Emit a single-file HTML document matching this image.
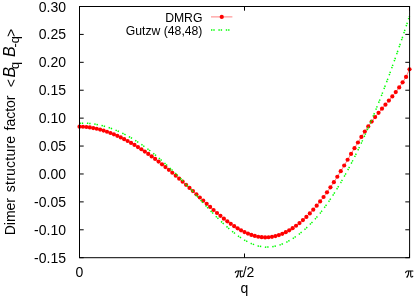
<!DOCTYPE html><html><head><meta charset="utf-8"><style>html,body{margin:0;padding:0;background:#fff}svg{display:block;will-change:transform;opacity:0.999}text{font-family:"Liberation Sans",sans-serif;fill:#000}</style></head><body>
<svg width="415" height="297" viewBox="0 0 415 297">
<rect width="415" height="297" fill="#fff"/>
<path d="M79.5 6.50h4.2M409.5 6.50h-4.2M79.5 34.41h4.2M409.5 34.41h-4.2M79.5 62.32h4.2M409.5 62.32h-4.2M79.5 90.23h4.2M409.5 90.23h-4.2M79.5 118.14h4.2M409.5 118.14h-4.2M79.5 146.06h4.2M409.5 146.06h-4.2M79.5 173.97h4.2M409.5 173.97h-4.2M79.5 201.88h4.2M409.5 201.88h-4.2M79.5 229.79h4.2M409.5 229.79h-4.2M79.5 257.70h4.2M409.5 257.70h-4.2M79.5 257.7v-4.2M79.5 6.5v4.2M244.5 257.7v-4.2M244.5 6.5v4.2M409.5 257.7v-4.2M409.5 6.5v4.2" stroke="#000" stroke-width="1" fill="none"/>
<text x="66" y="11.50" font-size="14" text-anchor="end">0.30</text>
<text x="66" y="39.41" font-size="14" text-anchor="end">0.25</text>
<text x="66" y="67.32" font-size="14" text-anchor="end">0.20</text>
<text x="66" y="95.23" font-size="14" text-anchor="end">0.15</text>
<text x="66" y="123.14" font-size="14" text-anchor="end">0.10</text>
<text x="66" y="151.06" font-size="14" text-anchor="end">0.05</text>
<text x="66" y="178.97" font-size="14" text-anchor="end">0.00</text>
<text x="66" y="206.88" font-size="14" text-anchor="end">-0.05</text>
<text x="66" y="234.79" font-size="14" text-anchor="end">-0.10</text>
<text x="66" y="262.70" font-size="14" text-anchor="end">-0.15</text>
<text x="79.5" y="277" font-size="14" text-anchor="middle">0</text>
<g transform="translate(-170.35 0)" stroke="#000" fill="none" stroke-linecap="round" stroke-linejoin="round"><path d="M405.65 272.6C405.9 271.5 406.5 271.05 407.4 271.05L412.9 271.05" stroke-width="1.1"/><path d="M408.8 271.2C408.7 273.5 408.2 275.6 407.25 277.0" stroke-width="1.1"/><path d="M407.5 276.3C407.3 276.8 407.0 277.1 406.7 277.05" stroke-width="1.1"/><path d="M410.7 271.2L410.7 275.6C410.7 276.7 411.3 277.1 412.0 277.0C412.5 276.9 412.75 276.6 412.85 276.2" stroke-width="1.05"/></g><text x="254.4" y="277" font-size="14" text-anchor="end">/2</text>
<g stroke="#000" fill="none" stroke-linecap="round" stroke-linejoin="round"><path d="M405.65 272.6C405.9 271.5 406.5 271.05 407.4 271.05L412.9 271.05" stroke-width="1.1"/><path d="M408.8 271.2C408.7 273.5 408.2 275.6 407.25 277.0" stroke-width="1.1"/><path d="M407.5 276.3C407.3 276.8 407.0 277.1 406.7 277.05" stroke-width="1.1"/><path d="M410.7 271.2L410.7 275.6C410.7 276.7 411.3 277.1 412.0 277.0C412.5 276.9 412.75 276.6 412.85 276.2" stroke-width="1.05"/></g>
<text x="244.5" y="292.7" font-size="14" text-anchor="middle">q</text>
<text transform="rotate(-90)" x="-235.31" y="15.2" font-size="14" letter-spacing="0">Dimer</text>
<text transform="rotate(-90)" x="-192.16" y="15.2" font-size="14" letter-spacing="0.22">structure</text>
<text transform="rotate(-90)" x="-130.51" y="15.2" font-size="14" letter-spacing="0">factor</text>
<text transform="rotate(-90)" x="-87.23" y="16.0" font-size="14">&lt;</text>
<text transform="rotate(-90)" x="-77.59" y="15.2" font-size="16" font-style="italic">B</text>
<text transform="rotate(-90)" x="-68.91" y="19.0" font-size="12.8">q</text>
<text transform="rotate(-90)" x="-57.07" y="15.2" font-size="16" font-style="italic">B</text>
<text transform="rotate(-90)" x="-47.6" y="19.0" font-size="12.8">-q</text>
<text transform="rotate(-90)" x="-36.91" y="16.0" font-size="14">&gt;</text>
<text x="202.4" y="22" font-size="12.2" text-anchor="end">DMRG</text>
<text x="202.4" y="34.7" font-size="12.2" text-anchor="end">Gutzw (48,48)</text>
<path d="M211 16.9H232.4" stroke="#f00" stroke-width="0.5" fill="none"/><circle cx="221.75" cy="16.9" r="2.1" fill="#f00"/>
<path d="M211 30H232.4" stroke="#0f0" stroke-width="1.5" stroke-dasharray="1.4 0.9 1.4 3.7" fill="none"/>
<path d="M79.50 126.63L82.94 126.74L86.38 127.00L89.81 127.44L93.25 128.03L96.69 128.76L100.12 129.62L103.56 130.62L107.00 131.74L110.44 132.99L113.88 134.36L117.31 135.85L120.75 137.45L124.19 139.16L127.62 140.98L131.06 142.91L134.50 144.93L137.94 147.05L141.38 149.26L144.81 151.56L148.25 153.95L151.69 156.42L155.12 158.96L158.56 161.58L162.00 164.28L165.44 167.04L168.88 169.86L172.31 172.74L175.75 175.68L179.19 178.68L182.62 181.72L186.06 184.81L189.50 187.94L192.94 191.11L196.38 194.30L199.81 197.50L203.25 200.68L206.69 203.84L210.12 206.96L213.56 210.01L217.00 212.99L220.44 215.87L223.88 218.65L227.31 221.30L230.75 223.80L234.19 226.15L237.62 228.32L241.06 230.30L244.50 232.07L247.94 233.61L251.38 234.92L254.81 235.96L258.25 236.73L261.69 237.21L265.12 237.39L268.56 237.26L272.00 236.83L275.44 236.10L278.88 235.09L282.31 233.78L285.75 232.19L289.19 230.32L292.62 228.17L296.06 225.75L299.50 223.06L302.94 220.10L306.38 216.88L309.81 213.40L313.25 209.67L316.69 205.69L320.12 201.46L323.56 196.99L327.00 192.28L330.44 187.34L333.88 182.17L337.31 176.77L340.75 171.20L344.19 165.50L347.62 159.74L351.06 153.94L354.50 148.18L357.94 142.50L361.38 136.95L364.81 131.59L368.25 126.46L371.69 121.62L375.12 117.09L378.56 112.81L382.00 108.69L385.44 104.64L388.88 100.57L392.31 96.40L395.75 92.04L399.19 87.39L402.62 82.37L406.06 76.89L409.50 69.24" stroke="#f00" stroke-width="0.5" fill="none"/>
<g fill="#f00"><circle cx="79.50" cy="126.63" r="2.1"/><circle cx="82.94" cy="126.74" r="2.1"/><circle cx="86.38" cy="127.00" r="2.1"/><circle cx="89.81" cy="127.44" r="2.1"/><circle cx="93.25" cy="128.03" r="2.1"/><circle cx="96.69" cy="128.76" r="2.1"/><circle cx="100.12" cy="129.62" r="2.1"/><circle cx="103.56" cy="130.62" r="2.1"/><circle cx="107.00" cy="131.74" r="2.1"/><circle cx="110.44" cy="132.99" r="2.1"/><circle cx="113.88" cy="134.36" r="2.1"/><circle cx="117.31" cy="135.85" r="2.1"/><circle cx="120.75" cy="137.45" r="2.1"/><circle cx="124.19" cy="139.16" r="2.1"/><circle cx="127.62" cy="140.98" r="2.1"/><circle cx="131.06" cy="142.91" r="2.1"/><circle cx="134.50" cy="144.93" r="2.1"/><circle cx="137.94" cy="147.05" r="2.1"/><circle cx="141.38" cy="149.26" r="2.1"/><circle cx="144.81" cy="151.56" r="2.1"/><circle cx="148.25" cy="153.95" r="2.1"/><circle cx="151.69" cy="156.42" r="2.1"/><circle cx="155.12" cy="158.96" r="2.1"/><circle cx="158.56" cy="161.58" r="2.1"/><circle cx="162.00" cy="164.28" r="2.1"/><circle cx="165.44" cy="167.04" r="2.1"/><circle cx="168.88" cy="169.86" r="2.1"/><circle cx="172.31" cy="172.74" r="2.1"/><circle cx="175.75" cy="175.68" r="2.1"/><circle cx="179.19" cy="178.68" r="2.1"/><circle cx="182.62" cy="181.72" r="2.1"/><circle cx="186.06" cy="184.81" r="2.1"/><circle cx="189.50" cy="187.94" r="2.1"/><circle cx="192.94" cy="191.11" r="2.1"/><circle cx="196.38" cy="194.30" r="2.1"/><circle cx="199.81" cy="197.50" r="2.1"/><circle cx="203.25" cy="200.68" r="2.1"/><circle cx="206.69" cy="203.84" r="2.1"/><circle cx="210.12" cy="206.96" r="2.1"/><circle cx="213.56" cy="210.01" r="2.1"/><circle cx="217.00" cy="212.99" r="2.1"/><circle cx="220.44" cy="215.87" r="2.1"/><circle cx="223.88" cy="218.65" r="2.1"/><circle cx="227.31" cy="221.30" r="2.1"/><circle cx="230.75" cy="223.80" r="2.1"/><circle cx="234.19" cy="226.15" r="2.1"/><circle cx="237.62" cy="228.32" r="2.1"/><circle cx="241.06" cy="230.30" r="2.1"/><circle cx="244.50" cy="232.07" r="2.1"/><circle cx="247.94" cy="233.61" r="2.1"/><circle cx="251.38" cy="234.92" r="2.1"/><circle cx="254.81" cy="235.96" r="2.1"/><circle cx="258.25" cy="236.73" r="2.1"/><circle cx="261.69" cy="237.21" r="2.1"/><circle cx="265.12" cy="237.39" r="2.1"/><circle cx="268.56" cy="237.26" r="2.1"/><circle cx="272.00" cy="236.83" r="2.1"/><circle cx="275.44" cy="236.10" r="2.1"/><circle cx="278.88" cy="235.09" r="2.1"/><circle cx="282.31" cy="233.78" r="2.1"/><circle cx="285.75" cy="232.19" r="2.1"/><circle cx="289.19" cy="230.32" r="2.1"/><circle cx="292.62" cy="228.17" r="2.1"/><circle cx="296.06" cy="225.75" r="2.1"/><circle cx="299.50" cy="223.06" r="2.1"/><circle cx="302.94" cy="220.10" r="2.1"/><circle cx="306.38" cy="216.88" r="2.1"/><circle cx="309.81" cy="213.40" r="2.1"/><circle cx="313.25" cy="209.67" r="2.1"/><circle cx="316.69" cy="205.69" r="2.1"/><circle cx="320.12" cy="201.46" r="2.1"/><circle cx="323.56" cy="196.99" r="2.1"/><circle cx="327.00" cy="192.28" r="2.1"/><circle cx="330.44" cy="187.34" r="2.1"/><circle cx="333.88" cy="182.17" r="2.1"/><circle cx="337.31" cy="176.77" r="2.1"/><circle cx="340.75" cy="171.20" r="2.1"/><circle cx="344.19" cy="165.50" r="2.1"/><circle cx="347.62" cy="159.74" r="2.1"/><circle cx="351.06" cy="153.94" r="2.1"/><circle cx="354.50" cy="148.18" r="2.1"/><circle cx="357.94" cy="142.50" r="2.1"/><circle cx="361.38" cy="136.95" r="2.1"/><circle cx="364.81" cy="131.59" r="2.1"/><circle cx="368.25" cy="126.46" r="2.1"/><circle cx="371.69" cy="121.62" r="2.1"/><circle cx="375.12" cy="117.09" r="2.1"/><circle cx="378.56" cy="112.81" r="2.1"/><circle cx="382.00" cy="108.69" r="2.1"/><circle cx="385.44" cy="104.64" r="2.1"/><circle cx="388.88" cy="100.57" r="2.1"/><circle cx="392.31" cy="96.40" r="2.1"/><circle cx="395.75" cy="92.04" r="2.1"/><circle cx="399.19" cy="87.39" r="2.1"/><circle cx="402.62" cy="82.37" r="2.1"/><circle cx="406.06" cy="76.89" r="2.1"/><circle cx="409.50" cy="69.24" r="2.1"/></g>
<path d="M79.50 123.19L86.38 123.19L93.25 123.82L100.12 125.08L107.00 126.93L113.88 129.36L120.75 132.34L127.62 135.85L134.50 139.88L141.38 144.41L148.25 149.40L155.12 154.84L162.00 160.71L168.88 167.00L175.75 173.66L182.62 180.70L189.50 188.03L196.38 195.51L203.25 203.00L210.12 210.36L217.00 217.44L223.88 224.10L230.75 230.20L237.62 235.58L244.50 240.11L251.38 243.64L258.25 246.03L265.12 247.13L272.00 246.88L278.88 245.34L285.75 242.60L292.62 238.73L299.50 233.84L306.38 227.98L313.25 221.16L320.12 213.23L327.00 204.10L333.88 193.87L340.75 182.61L347.62 170.38L354.50 157.17L361.38 142.96L368.25 127.75L375.12 111.52L382.00 94.26L388.88 76.02L395.75 56.86L402.62 36.88L409.50 16.15" stroke="#0f0" stroke-width="1.5" stroke-dasharray="1.4 0.9 1.4 3.7" fill="none"/>
<rect x="79.5" y="6.5" width="330.1" height="251.2" fill="none" stroke="#000" stroke-width="1"/>
</svg></body></html>
